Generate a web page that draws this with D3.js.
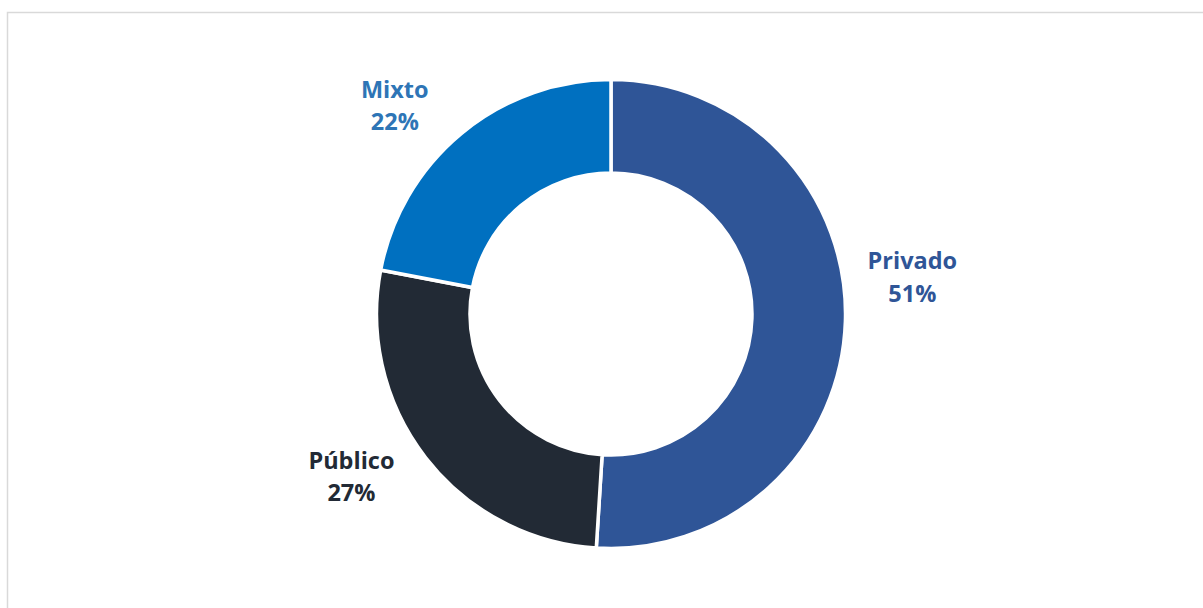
<!DOCTYPE html>
<html>
<head>
<meta charset="utf-8">
<script src="https://cdn.jsdelivr.net/npm/d3@7/dist/d3.min.js"></script>
<style>
  html, body { margin: 0; padding: 0; background: #ffffff; }
  svg { display: block; }
  text { font-family: "Open Sans", "Noto Sans", sans-serif; font-weight: 700; }
</style>
</head>
<body>
<svg id="chart" width="1203" height="608"></svg>
<script>
const categories = ["Privado", "Público", "Mixto"];
const values = [51, 27, 22];
const percentLabels = ["51%", "27%", "22%"];

const sliceColors = ["#2F5597", "#222A35", "#0070C0"];
const labelColors = ["#2F5597", "#222A35", "#2E75B6"];
// nudges of each label relative to its arc centroid (px)
const labelNudges = [[1.5, -54], [-22.5, -29], [-25, 15]];

const W = 1203, H = 608;
const cx = 611, cy = 314;
const outerR = 234.5, innerR = 141;
const labelR = 300;

const svg = d3.select("#chart");

svg.append("rect")
  .attr("x", 7.5).attr("y", 12.5)
  .attr("width", 1400).attr("height", 800)
  .attr("fill", "#ffffff")
  .attr("stroke", "#d9d9d9")
  .attr("stroke-width", 1.5);

const data = categories.map((c, i) => ({ cat: c, value: values[i], pct: percentLabels[i], i }));

const pie = d3.pie().value(d => d.value).sort(null);
const arcs = pie(data);

const arc = d3.arc().innerRadius(innerR).outerRadius(outerR);
const labelArc = d3.arc().innerRadius(labelR).outerRadius(labelR);

const g = svg.append("g").attr("transform", `translate(${cx},${cy})`);

g.selectAll("path.slice")
  .data(arcs)
  .enter().append("path")
  .attr("class", "slice")
  .attr("d", arc)
  .attr("fill", d => sliceColors[d.data.i])
  .attr("stroke", "#ffffff")
  .attr("stroke-width", 3.5)
  .attr("stroke-linejoin", "miter");

const labels = g.selectAll("text.lbl")
  .data(arcs)
  .enter().append("text")
  .attr("class", "lbl")
  .attr("text-anchor", "middle")
  .attr("font-size", 23.5)
  .attr("fill", d => labelColors[d.data.i])
  .attr("transform", d => {
    const c = labelArc.centroid(d);
    const n = labelNudges[d.data.i];
    return `translate(${c[0] + n[0]},${c[1] + n[1]})`;
  });

labels.append("tspan").attr("x", 0).attr("y", 0).text(d => d.data.cat);
labels.append("tspan").attr("x", 0).attr("y", 32.5).text(d => d.data.pct);
</script>
</body>
</html>
